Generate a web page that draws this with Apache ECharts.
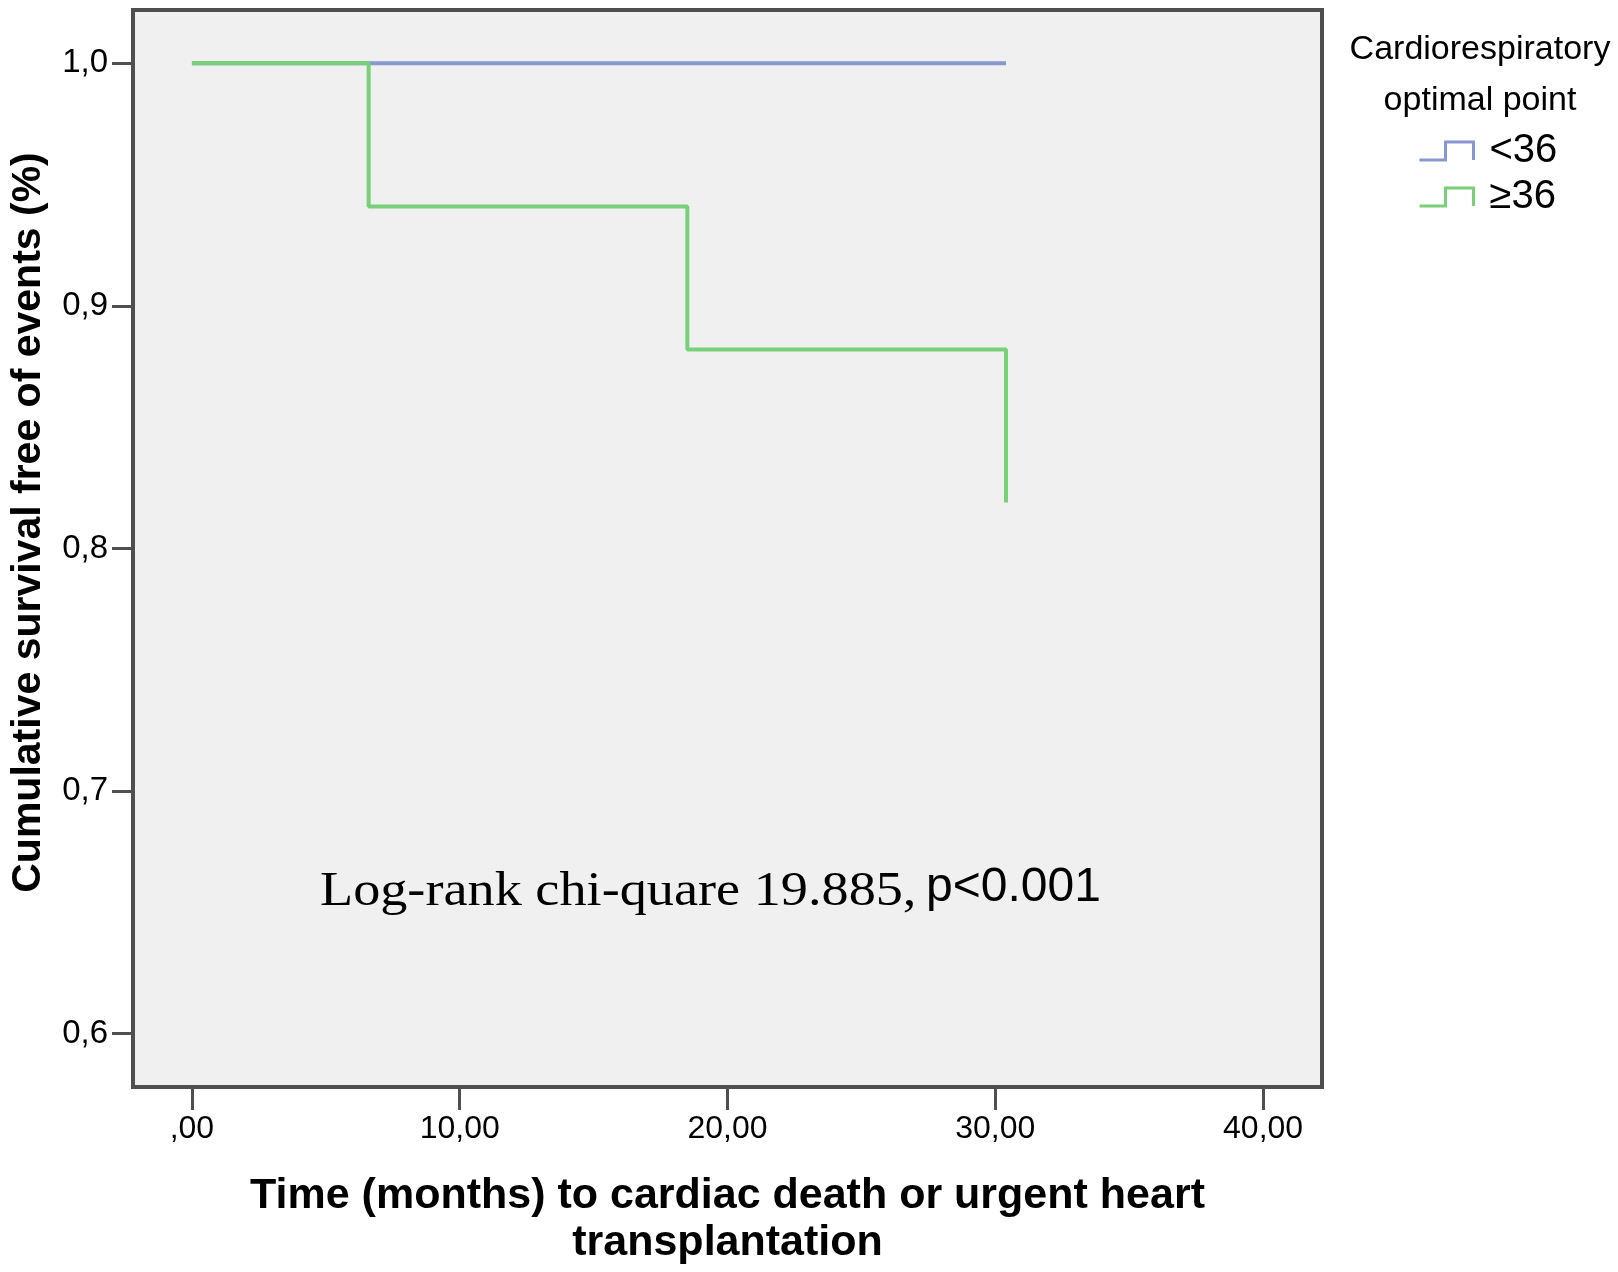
<!DOCTYPE html>
<html>
<head>
<meta charset="utf-8">
<script src="https://cdn.jsdelivr.net/npm/echarts@6/dist/echarts.min.js"></script>
<style>
html,body{margin:0;padding:0;background:#fff;}
#c{width:1618px;height:1272px;}
</style>
</head>
<body>
<div id="c"></div>
<script>
// ---- data ----
var groupNames = ['<36', '\u226536'];
var timesLow = [0, 30.4];
var survLow = [1.0, 1.0];
var timesHigh = [0, 6.6, 18.5, 30.4];
var survHigh = [1.0, 0.941, 0.882, 0.819];
var xTicks = [0, 10, 20, 30, 40];
var xTickLabels = [',00', '10,00', '20,00', '30,00', '40,00'];
var yTicks = [0.6, 0.7, 0.8, 0.9, 1.0];
var yTickLabels = ['0,6', '0,7', '0,8', '0,9', '1,0'];
var legendTitle = 'Cardiorespiratory\noptimal point';
var xTitle = 'Time (months) to cardiac death or urgent heart\ntransplantation';
var yTitle = 'Cumulative survival free of events (%)';
var noteSerif = 'Log-rank chi-quare 19.885,';
var noteSans = 'p<0.001';

function pairs(xs, ys) { return xs.map(function (x, i) { return [x, ys[i]]; }); }
function lab(vals, labels) { return function (v) { var i = vals.findIndex(function (t) { return Math.abs(t - v) < 1e-9; }); return i >= 0 ? labels[i] : ''; }; }

var blue = '#8797cf', green = '#78d078', frame = '#4f4f4f';
var chart = echarts.init(document.getElementById('c'));
var stepIcon = 'path://M0,18 L26,18 L26,0 L54,0 L54,18';
chart.setOption({
  animation: false,
  backgroundColor: '#ffffff',
  title: {
    text: legendTitle, left: 1480, top: 24, textAlign: 'center', padding: 0,
    textStyle: { fontFamily: 'Liberation Sans', fontSize: 34, lineHeight: 51, fontWeight: 'normal', color: '#000' }
  },
  legend: {
    orient: 'vertical', left: 1413, top: 126, itemWidth: 54, itemHeight: 18, itemGap: 6,
    icon: stepIcon,
    textStyle: { fontFamily: 'Liberation Sans', fontSize: 40, lineHeight: 40, color: '#000', padding: [0, 0, 0, 11] },
    data: [
      { name: groupNames[0], itemStyle: { color: 'rgba(0,0,0,0)', borderColor: blue, borderWidth: 3 } },
      { name: groupNames[1], itemStyle: { color: 'rgba(0,0,0,0)', borderColor: green, borderWidth: 3 } }
    ]
  },
  grid: { left: 124, top: 10, right: 296, bottom: 178, show: true, backgroundColor: '#f0f0f0', borderColor: frame, borderWidth: 4 },
  xAxis: {
    type: 'value', min: -2.2, max: 42.2,
    name: xTitle, nameLocation: 'middle', nameGap: 86,
    nameTextStyle: { fontFamily: 'Liberation Sans', fontSize: 43, fontWeight: 'bold', lineHeight: 47, color: '#000' },
    axisLine: { show: true, onZero: false, lineStyle: { color: frame, width: 4 } },
    axisTick: { show: true, length: 23, lineStyle: { color: frame, width: 3 }, customValues: xTicks },
    axisLabel: { margin: 26, fontFamily: 'Liberation Sans', fontSize: 32, color: '#000', customValues: xTicks, formatter: lab(xTicks, xTickLabels) },
    splitLine: { show: false }
  },
  yAxis: {
    type: 'value', min: 0.578, max: 1.022,
    name: yTitle, nameLocation: 'middle', nameGap: 84, nameRotate: 90,
    nameTextStyle: { fontFamily: 'Liberation Sans', fontSize: 41, fontWeight: 'bold', color: '#000', padding: [0, 0, 0, 52] },
    axisLine: { show: true, onZero: false, lineStyle: { color: frame, width: 4 } },
    axisTick: { show: true, length: 21, lineStyle: { color: frame, width: 3 }, customValues: yTicks },
    axisLabel: { margin: 25, fontFamily: 'Liberation Sans', fontSize: 33, color: '#000', customValues: yTicks, formatter: lab(yTicks, yTickLabels) },
    splitLine: { show: false }
  },
  series: [
    { name: groupNames[0], type: 'line', step: 'end', showSymbol: false, symbol: 'none',
      data: pairs(timesLow, survLow), lineStyle: { color: blue, width: 4 }, itemStyle: { color: blue }, z: 2 },
    { name: groupNames[1], type: 'line', step: 'end', showSymbol: false, symbol: 'none',
      data: pairs(timesHigh, survHigh), lineStyle: { color: green, width: 4 }, itemStyle: { color: green }, z: 3 }
  ],
  graphic: [
    { type: 'text', left: 320, top: 868, scaleX: 1.13, z: 10,
      style: { text: noteSerif, fontFamily: 'Liberation Serif', fontSize: 48, fill: '#000' } },
    { type: 'text', left: 926, top: 864, z: 10,
      style: { text: noteSans, fontFamily: 'Liberation Sans', fontSize: 48, fill: '#000' } }
  ]
});
</script>
</body>
</html>
